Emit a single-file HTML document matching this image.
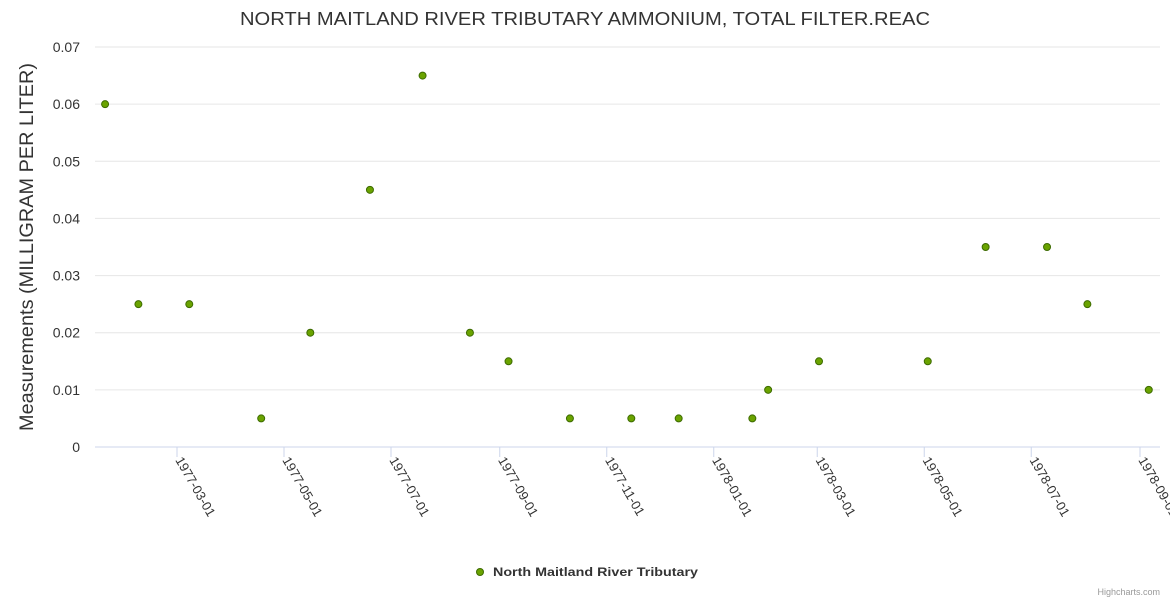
<!DOCTYPE html>
<html><head><meta charset="utf-8"><style>
body{margin:0;background:#fff;font-family:"Liberation Sans",sans-serif}
</style></head><body>
<svg id="c" width="1170" height="600" xmlns="http://www.w3.org/2000/svg">
<text x="585" y="25" text-anchor="middle" font-size="18" fill="#333" textLength="690" lengthAdjust="spacingAndGlyphs">NORTH MAITLAND RIVER TRIBUTARY AMMONIUM, TOTAL FILTER.REAC</text>
<text transform="translate(33,247) rotate(-90)" text-anchor="middle" font-size="19" fill="#333" textLength="368" lengthAdjust="spacingAndGlyphs">Measurements (MILLIGRAM PER LITER)</text>
<g id="grid"></g><g id="xax"></g><g id="pts"></g>
<g>
<circle cx="480" cy="572" r="3.5" fill="#6aa300" stroke="#3d6b00" stroke-width="1"/>
<text x="493" y="576" font-size="12" font-weight="bold" fill="#333" textLength="205" lengthAdjust="spacingAndGlyphs">North Maitland River Tributary</text></g>
<text x="1160" y="595" text-anchor="end" font-size="9" fill="#999">Highcharts.com</text>
</svg>
<script>
const dates=["1977-01-19","1977-02-07","1977-03-08","1977-04-18","1977-05-16","1977-06-19","1977-07-19","1977-08-15","1977-09-06","1977-10-11","1977-11-15","1977-12-12","1978-01-23","1978-02-01","1978-03-02","1978-05-03","1978-06-05","1978-07-10","1978-08-02","1978-09-06"];
const values=[0.06,0.025,0.025,0.005,0.02,0.045,0.065,0.02,0.015,0.005,0.005,0.005,0.005,0.01,0.015,0.015,0.035,0.035,0.025,0.01];
const yTicks=[0,0.01,0.02,0.03,0.04,0.05,0.06,0.07];
const xTicks=["1977-03-01","1977-05-01","1977-07-01","1977-09-01","1977-11-01","1978-01-01","1978-03-01","1978-05-01","1978-07-01","1978-09-01"];
const NS="http://www.w3.org/2000/svg";
const t0=Date.parse("1977-03-01"),DAY=864e5;
const X=d=>177+(Date.parse(d)-t0)/DAY*1.7541;
const Y=v=>447-v/0.07*400;
function mk(tag,at,parent){const e=document.createElementNS(NS,tag);for(const k in at)e.setAttribute(k,at[k]);parent.appendChild(e);return e;}
const g=document.getElementById('grid'),xa=document.getElementById('xax'),p=document.getElementById('pts');
yTicks.forEach(v=>{
 const l=mk('line',{x1:95,x2:1160,y1:Y(v),y2:Y(v),stroke:v===0?'#ccd6eb':'#e6e6e6'},g);
 
 
 const t=mk('text',{x:80,y:Y(v)+5,'text-anchor':'end','font-size':14,fill:'#333'},g);
 t.textContent=String(v);
 
 
});
xTicks.forEach(d=>{
 const x=X(d);
 const l=mk('line',{x1:x,x2:x,y1:447,y2:457,stroke:'#ccd6eb'},xa);
 
 
 const t=mk('text',{transform:`translate(${x-2},${460}) rotate(60)`,'font-size':13,fill:'#333'},xa);
 t.textContent=d;
 
 
});
dates.forEach((d,i)=>{
 const c=mk('circle',{cx:X(d),cy:Y(values[i]),r:3.5,fill:'#6aa300',stroke:'#3d6b00','stroke-width':1},p);
 
 
});
</script>
</body></html>
